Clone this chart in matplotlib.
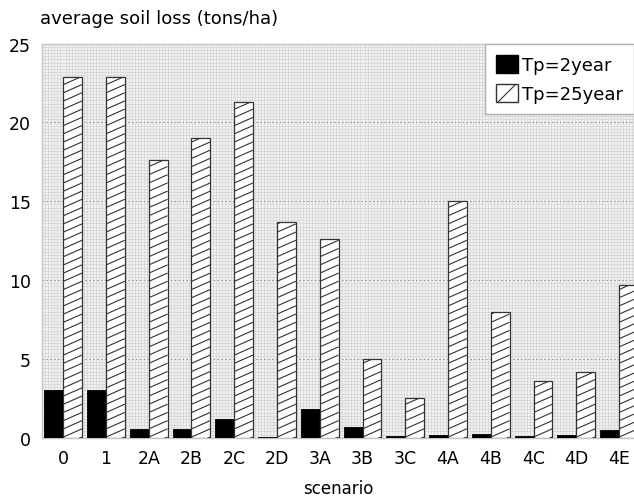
import numpy as np
import matplotlib as mpl
mpl.use('Agg')
import matplotlib.pyplot as plt
from matplotlib.ticker import MultipleLocator
from matplotlib.collections import LineCollection
from matplotlib.patches import Patch

mpl.rcParams['font.family'] = ['DejaVu Sans']
mpl.rcParams['hatch.linewidth'] = 0.8

# data
scenarios = ['0', '1', '2A', '2B', '2C', '2D', '3A', '3B', '3C', '4A', '4B', '4C', '4D', '4E']
tp2 = [3.05, 3.05, 0.53, 0.53, 1.16, 0.05, 1.84, 0.68, 0.12, 0.15, 0.25, 0.1, 0.15, 0.46]
tp25 = [22.9, 22.9, 17.6, 19.0, 21.3, 13.7, 12.6, 5.0, 2.5, 15.0, 8.0, 3.6, 4.2, 9.7]

fig = plt.figure(figsize=(6.34, 5.02), dpi=100, facecolor='w')
ax = fig.add_axes([0.066, 0.126, 0.934, 0.785])

x = np.arange(len(scenarios))
w = 0.44
ax.bar(x - w / 2, tp2, w, color='black', edgecolor='black', linewidth=0.6, zorder=3)
bars25 = ax.bar(x + w / 2, tp25, w, color='white', edgecolor='#333333',
                linewidth=0.9, zorder=3)

ax.set_xlim(-0.5, 13.35)
ax.set_ylim(0, 25)

# shallow diagonal hatch, clipped to each bar
slope = 1.2     # y units per x unit (about 25 deg on screen)
step = 0.52     # vertical spacing in y units
for b in bars25:
    x0, x1 = b.get_x(), b.get_x() + b.get_width()
    h = b.get_height()
    offs = np.arange(-1.0, h + 1.0, step)
    segs = [[(x0, o), (x1, o + slope * (x1 - x0))] for o in offs]
    lc = LineCollection(segs, colors='#333333', linewidths=0.8, zorder=4)
    ax.add_collection(lc)
    lc.set_clip_path(b.get_path(), b.get_transform())

ax.set_facecolor('#f1f1f1')

# fine mesh background + dotted major lines
ax.yaxis.set_major_locator(MultipleLocator(5))
ax.yaxis.set_minor_locator(MultipleLocator(0.2))
ax.xaxis.set_minor_locator(MultipleLocator(0.07))
ax.grid(which='minor', color='#d4d4d4', linewidth=0.5, zorder=0)
ax.grid(which='major', axis='y', color='#9a9a9a', linestyle=(0, (1.5, 2)),
        linewidth=0.8, zorder=1)
ax.set_axisbelow(True)

ax.set_xticks(x)
ax.set_xticklabels(scenarios)
ax.tick_params(which='both', length=0, labelsize=12.5, colors='black')
ax.tick_params(axis='y', pad=8)
ax.tick_params(axis='x', pad=8)

for s in ax.spines.values():
    s.set_color('#c4c4c4')
    s.set_linewidth(1.0)

ax.set_xlabel('scenario', fontsize=12, labelpad=9)
fig.text(0.063, 0.962, 'average soil loss (tons/ha)', fontsize=13, ha='left', va='center')

handles = [Patch(facecolor='black', edgecolor='black', label='Tp=2year'),
           Patch(facecolor='white', edgecolor='#333333', hatch='/', label='Tp=25year')]
leg = ax.legend(handles=handles, loc='upper right', fontsize=13, fancybox=False,
                framealpha=1, edgecolor='#b0b0b0', borderaxespad=0.0,
                handlelength=1.2, handleheight=1.2, handletextpad=0.25,
                borderpad=0.6, labelspacing=0.55)
leg.get_frame().set_linewidth(1.0)

plt.savefig('out.png', dpi=100)
